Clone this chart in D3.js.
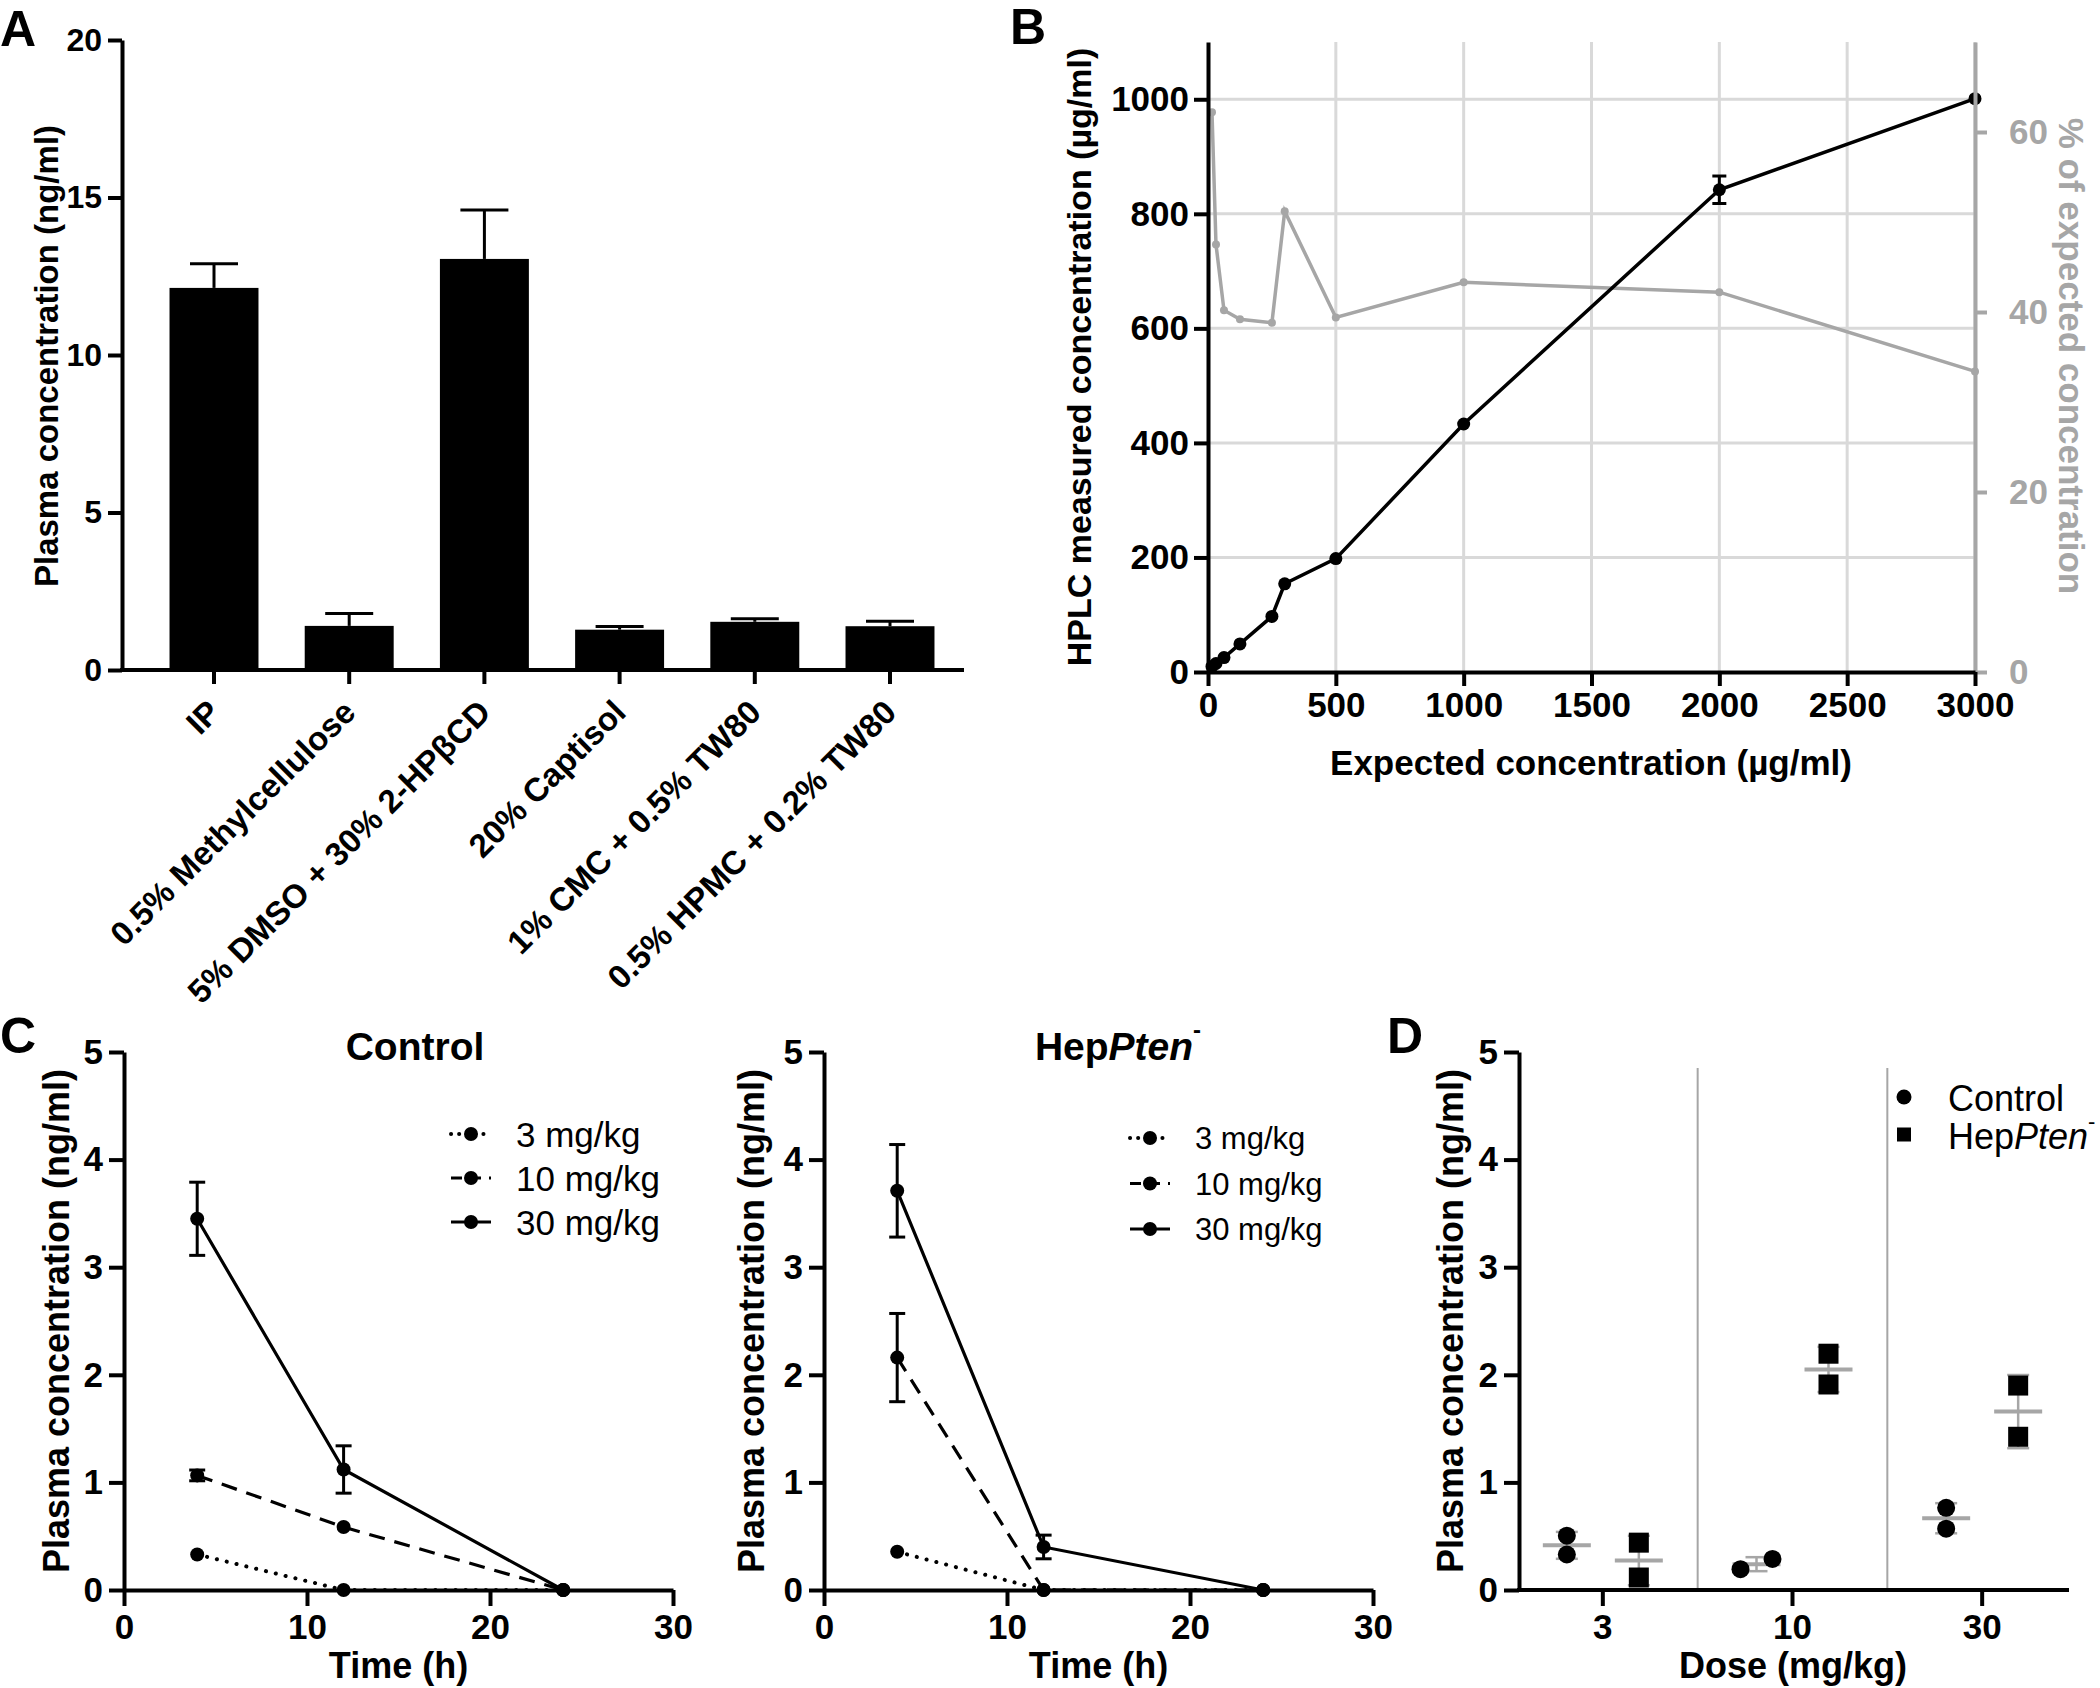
<!DOCTYPE html>
<html lang="en">
<head>
<meta charset="UTF-8">
<script src="https://d3js.org/d3.v7.min.js"></script>
<title>Plasma concentration figure</title>
<style>
  body { margin: 0; background: #fff; }
  svg text { font-family: "Liberation Sans", Arial, sans-serif; }
</style>
</head>
<body>
<svg id="fig" width="2100" height="1688"></svg>
<script>
// ---------- Panel A: vehicles
const vehicles = ["IP", "0.5% Methylcellulose", "5% DMSO + 30% 2-HPβCD", "20% Captisol",
                  "1% CMC + 0.5% TW80", "0.5% HPMC + 0.2% TW80"];
const vehicleMean = [12.13, 1.40, 13.05, 1.28, 1.53, 1.39];
const vehicleErr = [0.77, 0.39, 1.55, 0.10, 0.10, 0.16];
const ticksA = [0, 5, 10, 15, 20];

// ---------- Panel B: HPLC calibration
const expected = [15.6, 31.25, 62.5, 125, 250, 300, 500, 1000, 2000, 3000];
const measured = [9.7, 14.8, 25.1, 49, 97, 154, 198, 433, 842, 1001];
const measuredErr = [0, 0, 0, 0, 0, 0, 0, 0, 24, 0];
const percentExpected = [62.2, 47.5, 40.2, 39.2, 38.8, 51.2, 39.4, 43.3, 42.2, 33.4];
const ticksBx = [0, 500, 1000, 1500, 2000, 2500, 3000];
const ticksBy = [0, 200, 400, 600, 800, 1000];
const ticksBr = [0, 20, 40, 60];

// ---------- Panel C: time courses
const times = [4, 12, 24];
const doseLabels = ["3 mg/kg", "10 mg/kg", "30 mg/kg"];
const controlConc = [[0.33, 0, 0], [1.065, 0.585, 0], [3.45, 1.12, 0]];
const controlErr = [[0, 0, 0], [0.05, 0, 0], [0.34, 0.22, 0]];
const ptenConc = [[0.355, 0, 0], [2.16, 0, 0], [3.71, 0.40, 0]];
const ptenErr = [[0, 0, 0], [0.41, 0, 0], [0.43, 0.11, 0]];
const ticksCx = [0, 10, 20, 30];
const ticksCy = [0, 1, 2, 3, 4, 5];

// ---------- Panel D: dose comparison
const dosesD = ["3", "10", "30"];
const groupsD = ["Control", "HepPten"];
const controlRep = [[0.505, 0.33], [0.194, 0.289], [0.764, 0.57]];
const ptenRep = [[0.44, 0.116], [2.196, 1.91], [1.90, 1.424]];
const controlMean = [0.415, 0.24, 0.667];
const controlSem = [0.125, 0.065, 0.14];
const ptenMean = [0.274, 2.05, 1.658];
const ptenSem = [0.23, 0.21, 0.34];

const GRAY = "#a6a6a6";
const fmt = d3.format("d");
const svg = d3.select("#fig");
svg.append("rect").attr("width", 2100).attr("height", 1688).attr("fill", "#fff");

function styleAxis(g, size, color) {
    g.attr("font-family", null).attr("font-size", size).attr("font-weight", "bold");
    g.selectAll("path, line").attr("stroke", color).attr("stroke-width", 4);
    g.selectAll("text").attr("fill", color);
}

function panelLetter(letter, x, y) {
    svg.append("text").attr("x", x).attr("y", y).attr("font-size", 50)
        .attr("font-weight", "bold").text(letter);
}

function vLabel(text, x, y, size, rot, color) {
    svg.append("text")
        .attr("transform", "translate(" + x + "," + y + ") rotate(" + rot + ")")
        .attr("text-anchor", "middle").attr("dy", "0.35em")
        .attr("font-size", size).attr("font-weight", "bold")
        .attr("fill", color || "#000").text(text);
}

function hLabel(text, x, y, size) {
    svg.append("text").attr("x", x).attr("y", y).attr("text-anchor", "middle")
        .attr("font-size", size).attr("font-weight", "bold").text(text);
}

// HepPten^- with italic gene name
function heptenText(sel, supSize) {
    sel.append("tspan").text("Hep");
    sel.append("tspan").attr("font-style", "italic").text("Pten");
    sel.append("tspan").attr("font-size", supSize).attr("dy", "-0.9em").text("-");
}

// ================= Panel A =================
panelLetter("A", 0, 46);
const yA = d3.scaleLinear().domain([0, 20]).range([670, 40]);
const xA = d3.scaleBand().domain(vehicles).range([146.4, 957.6])
    .paddingInner(0.342).paddingOuter(0.171);

const gA = svg.append("g");
gA.selectAll("rect.bar").data(vehicles).join("rect")
    .attr("x", d => xA(d)).attr("width", xA.bandwidth())
    .attr("y", (d, i) => yA(vehicleMean[i]))
    .attr("height", (d, i) => yA(0) - yA(vehicleMean[i]))
    .attr("fill", "#000");
vehicles.forEach((d, i) => {
    const cx = xA(d) + xA.bandwidth() / 2;
    const top = yA(vehicleMean[i] + vehicleErr[i]);
    gA.append("line").attr("x1", cx).attr("x2", cx)
        .attr("y1", yA(vehicleMean[i])).attr("y2", top)
        .attr("stroke", "#000").attr("stroke-width", 3);
    gA.append("line").attr("x1", cx - 24).attr("x2", cx + 24)
        .attr("y1", top).attr("y2", top)
        .attr("stroke", "#000").attr("stroke-width", 3);
});

const axA = svg.append("g").attr("transform", "translate(122,0)")
    .call(d3.axisLeft(yA).tickValues(ticksA).tickFormat(fmt).tickSize(14).tickPadding(6).tickSizeOuter(0));
styleAxis(axA, 32, "#000");

const axAx = svg.append("g").attr("transform", "translate(0,670)")
    .call(d3.axisBottom(xA).tickSize(14).tickSizeOuter(0));
axAx.select(".domain").remove();
styleAxis(axAx, 33, "#000");
axAx.selectAll("text")
    .attr("x", 0).attr("y", 0).attr("dy", "0.35em")
    .attr("text-anchor", "end")
    .attr("transform", "translate(0,36) rotate(-45)");
svg.append("line").attr("x1", 120).attr("x2", 964).attr("y1", 670).attr("y2", 670)
    .attr("stroke", "#000").attr("stroke-width", 4);

vLabel("Plasma concentration (ng/ml)", 46, 356, 33, -90);

// ================= Panel B =================
panelLetter("B", 1010, 44);
const xB = d3.scaleLinear().domain([0, 3000]).range([1208, 1975]);
const yB = d3.scaleLinear().domain([0, 1100]).range([672, 42]);
const yR = d3.scaleLinear().domain([0, 70]).range([672, 42]);

const gridB = svg.append("g").attr("stroke", "#d9d9d9").attr("stroke-width", 3);
ticksBx.slice(1).forEach(v => {
    gridB.append("line").attr("x1", xB(v)).attr("x2", xB(v)).attr("y1", yB(1100)).attr("y2", yB(0));
});
ticksBy.slice(1).forEach(v => {
    gridB.append("line").attr("x1", xB(0)).attr("x2", xB(3000)).attr("y1", yB(v)).attr("y2", yB(v));
});

const pctLine = d3.line().x((d, i) => xB(expected[i])).y(d => yR(d));
svg.append("path").datum(percentExpected).attr("d", pctLine)
    .attr("fill", "none").attr("stroke", GRAY).attr("stroke-width", 3.5);
svg.selectAll("circle.pct").data(percentExpected).join("circle")
    .attr("cx", (d, i) => xB(expected[i])).attr("cy", d => yR(d)).attr("r", 4)
    .attr("fill", GRAY);

const measLine = d3.line().x((d, i) => xB(expected[i])).y(d => yB(d));
svg.append("path").datum(measured).attr("d", measLine)
    .attr("fill", "none").attr("stroke", "#000").attr("stroke-width", 3.5);
measured.forEach((d, i) => {
    if (measuredErr[i] > 0) {
        const cx = xB(expected[i]);
        const y1 = yB(d - measuredErr[i]), y2 = yB(d + measuredErr[i]);
        svg.append("line").attr("x1", cx).attr("x2", cx).attr("y1", y1).attr("y2", y2)
            .attr("stroke", "#000").attr("stroke-width", 3);
        [y1, y2].forEach(y => svg.append("line").attr("x1", cx - 7).attr("x2", cx + 7)
            .attr("y1", y).attr("y2", y).attr("stroke", "#000").attr("stroke-width", 3));
    }
});
svg.selectAll("circle.meas").data(measured).join("circle")
    .attr("cx", (d, i) => xB(expected[i])).attr("cy", d => yB(d)).attr("r", 6.5)
    .attr("fill", "#000");

const axBl = svg.append("g").attr("transform", "translate(1208,0)")
    .call(d3.axisLeft(yB).tickValues(ticksBy).tickFormat(fmt).tickSize(14).tickPadding(5).tickSizeOuter(0));
styleAxis(axBl, 35, "#000");
const axBr = svg.append("g").attr("transform", "translate(1975,0)")
    .call(d3.axisRight(yR).tickValues(ticksBr).tickFormat(fmt).tickSize(12).tickPadding(22).tickSizeOuter(0));
styleAxis(axBr, 35, GRAY);
const axBb = svg.append("g").attr("transform", "translate(0,672)")
    .call(d3.axisBottom(xB).tickValues(ticksBx).tickFormat(fmt).tickSize(14).tickPadding(6).tickSizeOuter(0));
styleAxis(axBb, 35, "#000");

vLabel("HPLC measured concentration (µg/ml)", 1079, 357, 34, -90);
vLabel("% of expected concentration", 2071, 356, 35, 90, GRAY);
hLabel("Expected concentration (µg/ml)", 1591, 775, 35);

// ================= Panel C =================
panelLetter("C", 0, 1053);
const yC = d3.scaleLinear().domain([0, 5]).range([1590, 1052]);
const dashes = ["0.1,10", "16,10", null];

function timeCourse(x0, conc, err, legendX, legendY, legendGap, legendSize) {
    const x = d3.scaleLinear().domain([0, 30]).range([x0, x0 + 549]);
    const line = d3.line().x((d, i) => x(times[i])).y(d => yC(d));
    const g = svg.append("g");
    conc.forEach((series, s) => {
        g.append("path").datum(series).attr("d", line)
            .attr("fill", "none").attr("stroke", "#000")
            .attr("stroke-width", s === 0 ? 4 : 3.2)
            .attr("stroke-linecap", s === 0 ? "round" : "butt")
            .attr("stroke-dasharray", dashes[s]);
        series.forEach((v, i) => {
            const e = err[s][i];
            if (e > 0) {
                const cx = x(times[i]), y1 = yC(v - e), y2 = yC(v + e);
                g.append("line").attr("x1", cx).attr("x2", cx).attr("y1", y1).attr("y2", y2)
                    .attr("stroke", "#000").attr("stroke-width", 3);
                [y1, y2].forEach(y => g.append("line").attr("x1", cx - 8).attr("x2", cx + 8)
                    .attr("y1", y).attr("y2", y).attr("stroke", "#000").attr("stroke-width", 3));
            }
        });
        g.selectAll(null).data(series).join("circle")
            .attr("cx", (d, i) => x(times[i])).attr("cy", d => yC(d)).attr("r", 7)
            .attr("fill", "#000");
    });

    const ay = svg.append("g").attr("transform", "translate(" + x0 + ",0)")
        .call(d3.axisLeft(yC).tickValues(ticksCy).tickFormat(fmt).tickSize(15).tickPadding(6).tickSizeOuter(0));
    styleAxis(ay, 35, "#000");
    const ax = svg.append("g").attr("transform", "translate(0,1590)")
        .call(d3.axisBottom(x).tickValues(ticksCx).tickFormat(fmt).tickSize(16).tickPadding(8).tickSizeOuter(0));
    styleAxis(ax, 35, "#000");

    // legend
    doseLabels.forEach((lab, s) => {
        const ly = legendY + s * legendGap;
        g.append("line").attr("x1", legendX - 20).attr("x2", legendX + 20)
            .attr("y1", ly).attr("y2", ly).attr("stroke", "#000")
            .attr("stroke-width", s === 0 ? 4 : 3.2)
            .attr("stroke-linecap", s === 0 ? "round" : "butt")
            .attr("stroke-dasharray", s === 0 ? "0.1,8" : (s === 1 ? "11,8" : null));
        g.append("circle").attr("cx", legendX).attr("cy", ly).attr("r", 7).attr("fill", "#000");
        g.append("text").attr("x", legendX + 45).attr("y", ly).attr("dy", "0.36em")
            .attr("font-size", legendSize).text(lab);
    });

    hLabel("Time (h)", x(15), 1678, 36);
    return x;
}

timeCourse(124, controlConc, controlErr, 471, 1134, 44, 35);
hLabel("Control", 415, 1060, 39);
vLabel("Plasma concentration (ng/ml)", 56, 1321, 36, -90);

timeCourse(824, ptenConc, ptenErr, 1150, 1138, 45.5, 31);
svg.append("text").attr("x", 1118).attr("y", 1060).attr("text-anchor", "middle")
    .attr("font-size", 39).attr("font-weight", "bold").call(heptenText, 24);
vLabel("Plasma concentration (ng/ml)", 751, 1321, 36, -90);

// ================= Panel D =================
panelLetter("D", 1387, 1053);
const xD = d3.scaleBand().domain(dosesD).range([1508, 2077]);
const xG = d3.scaleBand().domain(groupsD).range([-72, 72]);

svg.selectAll("line.sep").data(dosesD.slice(1)).join("line")
    .attr("x1", d => xD(d)).attr("x2", d => xD(d))
    .attr("y1", 1068).attr("y2", 1590)
    .attr("stroke", GRAY).attr("stroke-width", 2);

const groupData = [
    { name: "Control", reps: controlRep, mean: controlMean, sem: controlSem },
    { name: "HepPten", reps: ptenRep, mean: ptenMean, sem: ptenSem }
];
groupData.forEach(gd => {
    dosesD.forEach((dose, i) => {
        const cx = xD(dose) + xD.bandwidth() / 2 + xG(gd.name) + xG.bandwidth() / 2;
        const m = gd.mean[i], e = gd.sem[i];
        svg.append("line").attr("x1", cx).attr("x2", cx).attr("y1", yC(m - e)).attr("y2", yC(m + e))
            .attr("stroke", GRAY).attr("stroke-width", 2.5);
        [m - e, m + e].forEach(v => svg.append("line").attr("x1", cx - 11).attr("x2", cx + 11)
            .attr("y1", yC(v)).attr("y2", yC(v)).attr("stroke", GRAY).attr("stroke-width", 2.5));
        svg.append("line").attr("x1", cx - 24).attr("x2", cx + 24).attr("y1", yC(m)).attr("y2", yC(m))
            .attr("stroke", GRAY).attr("stroke-width", 4);
        const reps = gd.reps[i];
        // spread replicates sideways when they sit close together
        const spread = Math.abs(reps[0] - reps[1]) < 0.12 ? 16 : 0;
        reps.forEach((v, k) => {
            const px = cx + (k === 0 ? -spread : spread);
            if (gd.name === "Control") {
                svg.append("circle").attr("cx", px).attr("cy", yC(v)).attr("r", 9).attr("fill", "#000");
            } else {
                svg.append("rect").attr("x", px - 10).attr("y", yC(v) - 10)
                    .attr("width", 20).attr("height", 20).attr("fill", "#000");
            }
        });
    });
});

const axDy = svg.append("g").attr("transform", "translate(1519,0)")
    .call(d3.axisLeft(yC).tickValues(ticksCy).tickFormat(fmt).tickSize(15).tickPadding(6).tickSizeOuter(0));
styleAxis(axDy, 35, "#000");
const axDx = svg.append("g").attr("transform", "translate(0,1590)")
    .call(d3.axisBottom(xD).tickSize(16).tickPadding(8).tickSizeOuter(0));
axDx.select(".domain").remove();
styleAxis(axDx, 35, "#000");
svg.append("line").attr("x1", 1517).attr("x2", 2069).attr("y1", 1590).attr("y2", 1590)
    .attr("stroke", "#000").attr("stroke-width", 4);

// legend D
svg.append("circle").attr("cx", 1904).attr("cy", 1097).attr("r", 7.5).attr("fill", "#000");
svg.append("rect").attr("x", 1897).attr("y", 1127.5).attr("width", 14).attr("height", 14).attr("fill", "#000");
svg.append("text").attr("x", 1948).attr("y", 1111).attr("font-size", 36).text("Control");
svg.append("text").attr("x", 1948).attr("y", 1149).attr("font-size", 36).call(heptenText, 22);

hLabel("Dose (mg/kg)", 1793, 1678, 36);
vLabel("Plasma concentration (ng/ml)", 1450, 1321, 36, -90);
</script>
</body>
</html>
